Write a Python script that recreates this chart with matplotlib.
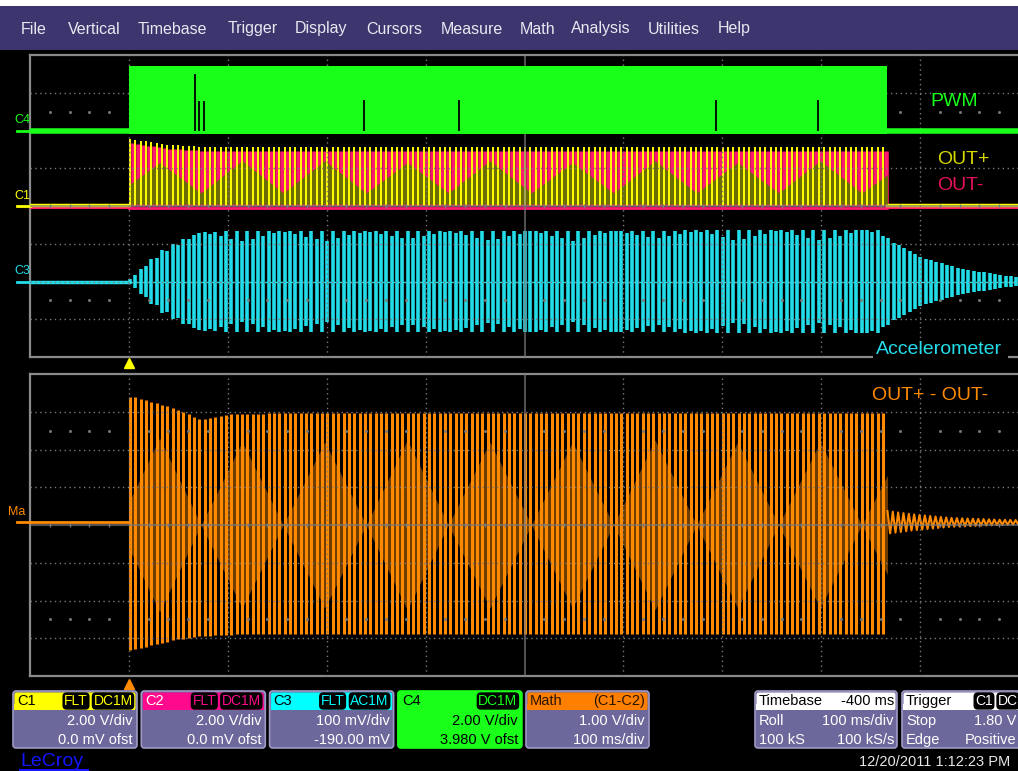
import numpy as np
import matplotlib.pyplot as plt
from matplotlib.patches import FancyBboxPatch, Rectangle

plt.rcParams["font.family"] = ["Liberation Sans", "DejaVu Sans"]

W, H = 1018, 771

# --- timebase: 100 ms/div, 10 div, trigger one division in from the left
T_LEFT_MS, T_RIGHT_MS = -100, 900
BURST_ON_MS, BURST_OFF_MS = 0, 767
CARRIER_MS = 5.4

# C4 - PWM, drawn 2 div above the centre of the upper grid
C4_OFFSET = 2.0
C4_TOP = 1.72
C4_BOTTOM = -0.1
C4_GLITCH_MS = [67, 71, 76, 238, 334, 594, 697]
C4_GLITCH_DIV = [1.50, 0.78, 0.78, 0.80, 0.80, 0.80, 0.80]

# C1 / C2 - OUT+ and OUT-, centre of the upper grid
OUT_ENV_MS = [0, 15, 40, 80, 767]
OUT_PLUS_DIV = [1.78, 1.72, 1.62, 1.56, 1.56]
OUT_MINUS_DIV = [1.70, 1.62, 1.52, 1.46, 1.46]

# beat lobes seen in OUT+, accelerometer and math traces
BEAT_NODE_MS = [-11, 73, 156, 240, 323, 407, 490, 574, 657, 741, 824]
OUT_LOBE_DIV = [1.15, 1.2, 1.2, 1.15, 1.2, 1.15, 1.2, 1.15, 1.2, 1.1]
OUT_LOBE_FLOOR = 0.35
ACC_LOBE_FRAC = [0.85, 0.8, 0.8, 0.85, 0.8, 0.8, 0.85, 0.8, 0.8, 0.85]
ACC_NODE_FRAC = 1.0
MATH_LOBE_DIV = [2.3, 2.2, 2.2, 2.25, 2.2, 2.2, 2.25, 2.2, 2.2, 2.1]

# C3 - accelerometer, 2 div below the centre of the upper grid
ACC_OFFSET = -2.0
ACC_ENV_MS = [0, 11, 31, 52, 72, 102, 760, 772, 800, 840, 881, 900]
ACC_ENV_DIV = [0.05, 0.3, 0.8, 1.1, 1.3, 1.33, 1.36, 1.05, 0.65, 0.35, 0.17, 0.12]

# Math (C1-C2), lower grid
MATH_BASE_DIV = 0.07
MATH_ENV_MS = [0, 5, 45, 72, 105, 300, 767]
MATH_UP_DIV = [3.4, 3.4, 3.1, 2.8, 2.95, 2.97, 2.97]
MATH_LO_DIV = [-3.3, -3.3, -3.05, -2.95, -2.9, -2.88, -2.88]
MATH_TAIL_MS = [767, 790, 830, 880, 900]
MATH_TAIL_DIV = [0.3, 0.22, 0.12, 0.07, 0.06]

MENU = ["File", "Vertical", "Timebase", "Trigger", "Display", "Cursors",
        "Measure", "Math", "Analysis", "Utilities", "Help"]
MENU_X = [21, 68, 138, 228, 295, 366, 441, 520, 571, 648, 718]

CH_NAMES = ["C1", "C2", "C3", "C4"]
CH_FLT = ["FLT", "FLT", "FLT", None]
CH_COUPLING = ["DC1M", "DC1M", "AC1M", "DC1M"]
CH_VDIV = ["2.00 V/div", "2.00 V/div", "100 mV/div", "2.00 V/div"]
CH_OFS = ["0.0 mV ofst", "0.0 mV ofst", "-190.00 mV", "3.980 V ofst"]

GREEN = "#19ff19"
YELLOW = "#ffff00"
PINK = "#ff1a6e"
OLIVE = "#6c6c04"
CYAN = "#22dde9"
ORANGE = "#ff8a00"
DARK_ORANGE = "#6e3c00"
GRID = "#7a7a7a"
PANEL = "#6c689b"
PANEL_EDGE = "#9e9ac6"
PURPLE = "#3d356e"


def lobe_curve(t, nodes, peaks, floor):
    nodes = np.asarray(nodes, float)
    centers = (nodes[:-1] + nodes[1:]) / 2
    kt = np.empty(len(nodes) + len(centers))
    kt[0::2], kt[1::2] = nodes, centers
    kv = np.empty_like(kt)
    kv[0::2], kv[1::2] = floor, peaks
    return np.interp(t, kt, kv)


fig = plt.figure(figsize=(W / 100, H / 100), dpi=100)
fig.patch.set_facecolor("black")


def px_axes(x0, y0, x1, y1):
    return fig.add_axes([x0 / W, 1 - y1 / H, (x1 - x0) / W, (y1 - y0) / H])


def draw_grid(ax):
    for i in range(1, 10):
        x = T_LEFT_MS + i * 100
        if i == 5:
            ax.axvline(x, color=GRID, lw=1.2, alpha=0.8, zorder=8)
        else:
            ax.axvline(x, color=GRID, lw=1.0, ls=(0, (1, 2.5)), zorder=8)
    for j in range(-3, 4):
        if j == 0:
            ax.axhline(0, color=GRID, lw=1.2, alpha=0.8, zorder=8)
        else:
            ax.axhline(j, color=GRID, lw=1.0, ls=(0, (1, 2.5)), zorder=8)
    minor = np.arange(T_LEFT_MS + 20, T_RIGHT_MS, 20)
    minor = minor[np.round(minor) % 100 != 0]
    for y in (2.5, -2.5):
        ax.plot(minor, np.full(len(minor), y), ls="none", marker="s", ms=1.0,
                color=GRID, zorder=8)
    ax.plot(minor, np.zeros(len(minor)), ls="none", marker="|", ms=3,
            mew=1.0, color=GRID, zorder=8)
    for s in ax.spines.values():
        s.set_color("#8a8a8a")
        s.set_linewidth(1.6)


top = px_axes(30, 55, 1019, 357)
bot = px_axes(30, 374, 1019, 676)
for ax in (top, bot):
    ax.set_xlim(T_LEFT_MS, T_RIGHT_MS)
    ax.set_ylim(-4, 4)
    ax.set_facecolor("black")
    ax.set_xticks([])
    ax.set_yticks([])
    draw_grid(ax)

tk = np.arange(BURST_ON_MS + 1.0, BURST_OFF_MS, CARRIER_MS)
tk_all = np.arange(BURST_ON_MS + 1.0, T_RIGHT_MS, CARRIER_MS)
td = np.arange(BURST_ON_MS, BURST_OFF_MS + 1, 1.0)

# ---- C4 PWM (drawn above the grid, as on the scope)
top.plot([T_LEFT_MS, BURST_ON_MS], [C4_OFFSET, C4_OFFSET], color=GREEN, lw=4, zorder=9)
top.plot([BURST_OFF_MS, T_RIGHT_MS], [C4_OFFSET, C4_OFFSET], color=GREEN, lw=4, zorder=9)
top.fill_between([BURST_ON_MS, BURST_OFF_MS], C4_OFFSET + C4_BOTTOM, C4_OFFSET + C4_TOP,
                 color=GREEN, lw=0, zorder=9)
top.vlines(C4_GLITCH_MS, C4_OFFSET, C4_OFFSET + np.array(C4_GLITCH_DIV),
           color="black", lw=1.3, zorder=10)

# ---- C1 / C2
top.plot([T_LEFT_MS, BURST_ON_MS], [-0.05, -0.05], color=PINK, lw=1.5, zorder=3)
top.plot([T_LEFT_MS, BURST_ON_MS], [0.02, 0.02], color=YELLOW, lw=2.5, zorder=4)
top.plot([BURST_OFF_MS, T_RIGHT_MS], [-0.05, -0.05], color=PINK, lw=1.5, zorder=3)
top.plot([BURST_OFF_MS, T_RIGHT_MS], [0.02, 0.02], color=YELLOW, lw=2.5, zorder=4)
top.plot([BURST_ON_MS, BURST_OFF_MS], [-0.05, -0.05], color=PINK, lw=2, zorder=3)
minus_top = np.interp(tk + CARRIER_MS / 2, OUT_ENV_MS, OUT_MINUS_DIV)
top.vlines(tk + CARRIER_MS / 2, 0, minus_top, color=PINK, lw=3.3, zorder=3)
olive = lobe_curve(td, BEAT_NODE_MS, OUT_LOBE_DIV, OUT_LOBE_FLOOR)
top.fill_between(td, 0.05, olive, color=OLIVE, lw=0, zorder=4)
plus_top = np.interp(tk, OUT_ENV_MS, OUT_PLUS_DIV)
top.vlines(tk, 0, plus_top, color=YELLOW, lw=1.4, zorder=5)

# ---- C3 accelerometer
top.plot([T_LEFT_MS, BURST_ON_MS], [ACC_OFFSET, ACC_OFFSET], color=CYAN, lw=2.5, zorder=3)
acc = np.interp(tk_all, ACC_ENV_MS, ACC_ENV_DIV)
frac = lobe_curve(tk_all, BEAT_NODE_MS, ACC_LOBE_FRAC, ACC_NODE_FRAC)
frac[tk_all > BURST_OFF_MS] = 1.0
frac[0::2] = 1.0
acc = acc * frac
top.vlines(tk_all, ACC_OFFSET - acc, ACC_OFFSET + acc, color=CYAN, lw=2.6, zorder=3)
top.plot([T_LEFT_MS, T_RIGHT_MS], [ACC_OFFSET, ACC_OFFSET], color=CYAN, lw=1.0, zorder=3)

# ---- Math C1-C2
bot.plot([T_LEFT_MS, BURST_ON_MS], [MATH_BASE_DIV] * 2, color=ORANGE, lw=2, zorder=3)
lobes = lobe_curve(td, BEAT_NODE_MS, MATH_LOBE_DIV, 0.0)
bot.fill_between(td, -lobes, lobes, color=DARK_ORANGE, lw=0, zorder=2)
up = np.interp(tk, MATH_ENV_MS, MATH_UP_DIV)
lo = np.interp(tk, MATH_ENV_MS, MATH_LO_DIV)
bot.vlines(tk, lo, up, color=ORANGE, lw=2.2, zorder=3)
tail_t = np.arange(BURST_OFF_MS, T_RIGHT_MS, CARRIER_MS / 2)
tail_a = np.interp(tail_t, MATH_TAIL_MS, MATH_TAIL_DIV)
sign = np.where(np.arange(len(tail_t)) % 2 == 0, 1.0, -1.0)
bot.plot(tail_t, MATH_BASE_DIV + sign * tail_a, color=ORANGE, lw=1.5, zorder=3)

# ---- channel markers on the left and trigger arrows
for ax, off, name, col, lx in [(top, C4_OFFSET, "C4", GREEN, -116),
                               (top, 0.0, "C1", YELLOW, -116),
                               (top, ACC_OFFSET, "C3", CYAN, -116),
                               (bot, MATH_BASE_DIV, "Ma", ORANGE, -122)]:
    ax.plot([-113, T_LEFT_MS], [off, off], color=col, lw=2, clip_on=False, zorder=3)
    ax.text(lx, off + 0.27, name, color=col, fontsize=9, ha="left", va="center",
            clip_on=False)
top.plot([0], [-4.17], marker="^", ms=7.5, color=YELLOW, clip_on=False)
bot.plot([0], [-4.2], marker="^", ms=7.5, color=ORANGE, clip_on=False)

# ---- UI overlay in pixel coordinates
ui = fig.add_axes([0, 0, 1, 1])
ui.set_xlim(0, W)
ui.set_ylim(H, 0)
ui.axis("off")
ui.set_zorder(10)
ui.patch.set_alpha(0)

ui.add_patch(Rectangle((0, 0), W, 6, fc="white", ec="none"))
ui.add_patch(Rectangle((0, 6), W, 44, fc=PURPLE, ec="none"))
for name, x in zip(MENU, MENU_X):
    ui.text(x, 29, name, color="#e8e8f0", fontsize=11.5, ha="left", va="center")

ui.text(930, 101, "PWM", color=GREEN, fontsize=14, ha="left", va="center")
ui.text(937, 159, "OUT+", color="#d6d600", fontsize=14, ha="left", va="center")
ui.text(937, 186, "OUT-", color="#e8105e", fontsize=14, ha="left", va="center")
ui.add_patch(Rectangle((873, 354), 135, 6, fc="black", ec="none"))
ui.text(876, 350, "Accelerometer", color=CYAN, fontsize=14, ha="left", va="center")
ui.text(872, 396, "OUT+ - OUT-", color=ORANGE, fontsize=14, ha="left", va="center")


def panel(x0, w, head, body=PANEL, edge=PANEL_EDGE, y0=691, h=57, hh=19):
    ui.add_patch(FancyBboxPatch((x0, y0), w, h, boxstyle="round,pad=0,rounding_size=3",
                                fc=body, ec=edge, lw=1.2))
    ui.add_patch(FancyBboxPatch((x0 + 1.5, y0 + 1.5), w - 3, hh - 1.5,
                                boxstyle="round,pad=0,rounding_size=2", fc=head, ec="none"))
    ui.add_patch(Rectangle((x0 + 1.5, y0 + hh - 6), w - 3, 6, fc=head, ec="none"))


def tag(x, y, s, col):
    ui.text(x, y, s, color=col, fontsize=10, ha="center", va="center",
            bbox=dict(boxstyle="round,pad=0.12,rounding_size=0.3", fc="black", ec="none"))


ch_head = [YELLOW, "#ff0a8c", "#00ffff", GREEN]
ch_title = ["black", "white", "black", "black"]
ch_tag = [YELLOW, "#ff0a8c", "#00ffff", GREEN]
for i in range(4):
    x0 = 13 + 128.3 * i
    green = CH_NAMES[i] == "C4"
    panel(x0, 124, ch_head[i], body=GREEN if green else PANEL,
          edge=GREEN if green else PANEL_EDGE)
    ui.text(x0 + 4, 701, CH_NAMES[i], color=ch_title[i], fontsize=10.5, va="center")
    if CH_FLT[i]:
        tag(x0 + 63, 701, CH_FLT[i], ch_tag[i])
    tag(x0 + 100, 701, CH_COUPLING[i], ch_tag[i])
    txt = "black" if green else "white"
    ui.text(x0 + 120, 721, CH_VDIV[i], color=txt, fontsize=10.5, ha="right", va="center")
    ui.text(x0 + 120, 740, CH_OFS[i], color=txt, fontsize=10.5, ha="right", va="center")

panel(526, 123, "#ff8000")
ui.text(530, 701, "Math", color="#2a1500", fontsize=10.5, va="center")
ui.text(645, 701, "(C1-C2)", color="#2a1500", fontsize=10.5, ha="right", va="center")
ui.text(645, 721, "1.00 V/div", color="white", fontsize=10.5, ha="right", va="center")
ui.text(645, 740, "100 ms/div", color="white", fontsize=10.5, ha="right", va="center")

panel(755, 142, "white")
ui.text(759, 701, "Timebase", color="black", fontsize=10.5, va="center")
ui.text(894, 701, "-400 ms", color="black", fontsize=10.5, ha="right", va="center")
ui.text(759, 721, "Roll", color="white", fontsize=10.5, va="center")
ui.text(894, 721, "100 ms/div", color="white", fontsize=10.5, ha="right", va="center")
ui.text(759, 740, "100 kS", color="white", fontsize=10.5, va="center")
ui.text(894, 740, "100 kS/s", color="white", fontsize=10.5, ha="right", va="center")

panel(902, 130, "white")
ui.text(906, 701, "Trigger", color="black", fontsize=10.5, va="center")
tag(984, 701, "C1", "white")
tag(1008, 701, "DC", "white")
ui.text(906, 721, "Stop", color="white", fontsize=10.5, va="center")
ui.text(1016, 721, "1.80 V", color="white", fontsize=10.5, ha="right", va="center")
ui.text(906, 740, "Edge", color="white", fontsize=10.5, va="center")
ui.text(1016, 740, "Positive", color="white", fontsize=10.5, ha="right", va="center")

ui.text(20, 761, "LeCroy", color="#1414ff", fontsize=14, ha="left", va="center")
ui.plot([20, 88], [769.5, 769.5], color="#1414ff", lw=1.5)
ui.text(1010, 762, "12/20/2011 1:12:23 PM", color="#e6e6e6", fontsize=10.5,
        ha="right", va="center")

fig.savefig("out.png", dpi=100, facecolor=fig.get_facecolor())
